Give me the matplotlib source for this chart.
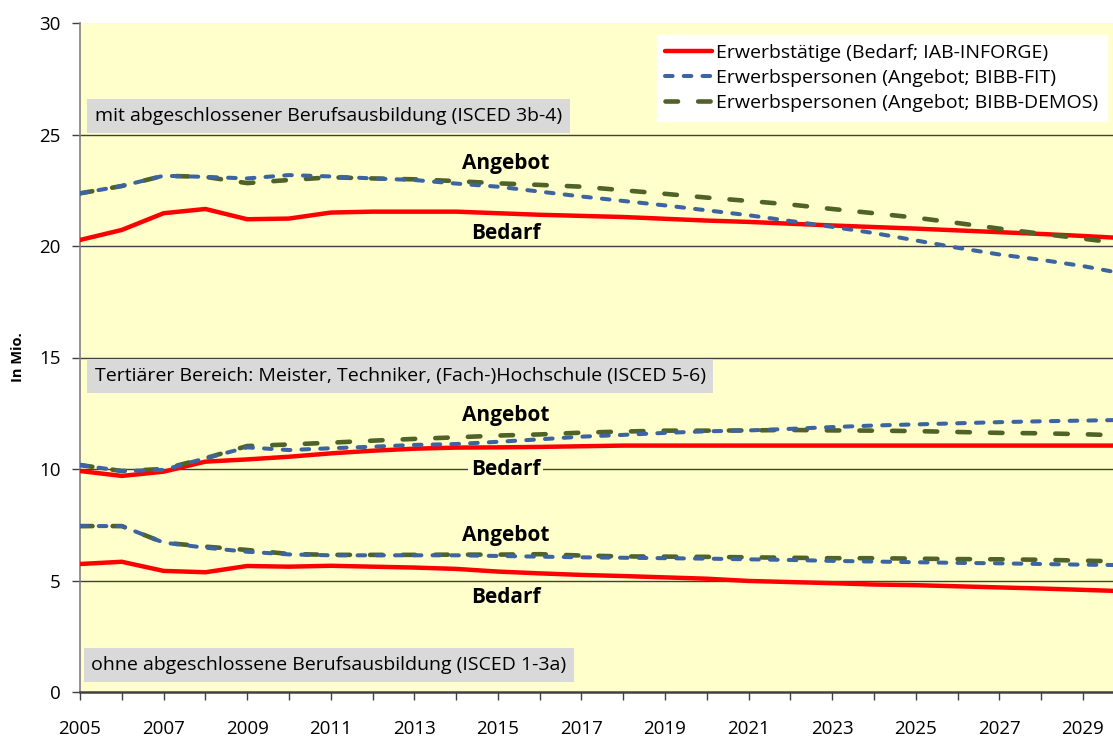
import matplotlib
matplotlib.use("Agg")
import matplotlib.pyplot as plt
import numpy as np

plt.rcParams['font.family'] = ['Open Sans', 'DejaVu Sans']
plt.rcParams['lines.scale_dashes'] = False

years = list(range(2005, 2031))

# mit abgeschlossener Berufsausbildung (ISCED 3b-4)
mid_bedarf = [20.27, 20.72, 21.47, 21.66, 21.2, 21.23, 21.5, 21.54, 21.54, 21.54, 21.47, 21.4, 21.35,
              21.3, 21.22, 21.14, 21.08, 21.0, 20.92, 20.85, 20.78, 20.7, 20.62, 20.54, 20.45, 20.35]
mid_fit = [22.36, 22.69, 23.15, 23.1, 23.03, 23.18, 23.12, 23.03, 22.96, 22.8, 22.66, 22.44, 22.22,
           22.02, 21.82, 21.6, 21.38, 21.12, 20.86, 20.58, 20.25, 19.92, 19.62, 19.38, 19.1, 18.75]
mid_demos = [22.36, 22.69, 23.15, 23.1, 22.82, 22.96, 23.08, 23.03, 22.99, 22.91, 22.81, 22.74, 22.66,
             22.5, 22.34, 22.17, 22.02, 21.86, 21.66, 21.47, 21.27, 21.03, 20.78, 20.55, 20.33, 20.1]

# Tertiärer Bereich (ISCED 5-6)
ter_bedarf = [9.91, 9.69, 9.88, 10.33, 10.43, 10.55, 10.7, 10.82, 10.91, 10.96, 10.97, 10.99, 11.02,
              11.05, 11.05, 11.05, 11.05, 11.05, 11.05, 11.05, 11.05, 11.05, 11.05, 11.05, 11.05, 11.05]
ter_fit = [10.18, 9.91, 9.96, 10.48, 10.97, 10.85, 10.93, 11.0, 11.08, 11.12, 11.22, 11.33, 11.45,
           11.53, 11.62, 11.69, 11.73, 11.8, 11.88, 11.95, 12.0, 12.05, 12.1, 12.14, 12.17, 12.2]
ter_demos = [10.18, 9.91, 10.0, 10.48, 11.03, 11.1, 11.18, 11.27, 11.35, 11.42, 11.5, 11.55, 11.63,
             11.68, 11.72, 11.72, 11.73, 11.75, 11.73, 11.72, 11.7, 11.66, 11.62, 11.6, 11.56, 11.5]

# ohne abgeschlossene Berufsausbildung (ISCED 1-3a)
low_bedarf = [5.74, 5.84, 5.43, 5.37, 5.65, 5.62, 5.66, 5.62, 5.58, 5.52, 5.4, 5.32, 5.25,
              5.2, 5.14, 5.08, 4.98, 4.93, 4.88, 4.82, 4.79, 4.74, 4.69, 4.64, 4.58, 4.52]
low_fit = [7.44, 7.44, 6.7, 6.47, 6.29, 6.17, 6.13, 6.13, 6.13, 6.13, 6.1, 6.07, 6.04,
           6.02, 6.0, 5.98, 5.95, 5.92, 5.88, 5.85, 5.82, 5.79, 5.77, 5.74, 5.71, 5.69]
low_demos = [7.44, 7.44, 6.7, 6.52, 6.37, 6.19, 6.15, 6.15, 6.15, 6.16, 6.16, 6.18, 6.12,
             6.08, 6.07, 6.06, 6.04, 6.02, 6.0, 6.0, 5.98, 5.96, 5.95, 5.93, 5.89, 5.85]

legend_labels = ["Erwerbstätige (Bedarf; IAB-INFORGE)",
                 "Erwerbspersonen (Angebot; BIBB-FIT)",
                 "Erwerbspersonen (Angebot; BIBB-DEMOS)"]
group_labels = ["mit abgeschlossener Berufsausbildung (ISCED 3b-4)",
                "Tertiärer Bereich: Meister, Techniker, (Fach-)Hochschule (ISCED 5-6)",
                "ohne abgeschlossene Berufsausbildung (ISCED 1-3a)"]

RED = "#FF0000"
BLUE = "#3C64A0"
GREEN = "#4F6228"
BG = "#FFFFCC"

fig = plt.figure(figsize=(11.13, 7.40), dpi=100)
ax = fig.add_axes([80/1113, 48/740, 1033/1113, 669/740])
ax.set_facecolor(BG)

for yv in [5, 10, 15, 20, 25]:
    ax.axhline(yv, color="#404040", lw=1.0, zorder=1)

groups = [(mid_bedarf, mid_fit, mid_demos), (ter_bedarf, ter_fit, ter_demos),
          (low_bedarf, low_fit, low_demos)]
handles = None
for i, (bed, fit, dem) in enumerate(groups):
    l1, = ax.plot(years, bed, color=RED, lw=3.2, solid_capstyle='round', zorder=3)
    l3, = ax.plot(years, dem, color=GREEN, lw=3.3, dashes=(9.0, 14.5),
                  dash_capstyle='round', zorder=4)
    l2, = ax.plot(years, fit, color=BLUE, lw=2.9, dashes=(5.5, 8.0),
                  dash_capstyle='round', zorder=5)
    if i == 0:
        handles = [l1, l2, l3]

ax.set_xlim(2005, 2029.72)
ax.set_ylim(0, 30)
ax.set_yticks([0, 5, 10, 15, 20, 25, 30])
ax.set_xticks(years[:-1], minor=True)
ax.set_xticks(list(range(2005, 2030, 2)))
ax.tick_params(axis='x', which='both', length=6, direction='out', color='#404040', width=1)
ax.tick_params(axis='x', which='major', labelsize=13.5, pad=14)
ax.tick_params(axis='y', length=6, direction='out', color='#404040', width=1, labelsize=13.5, pad=8)
for s in ['top', 'right']:
    ax.spines[s].set_visible(False)
ax.spines['left'].set_color('#808080')
ax.spines['left'].set_linewidth(1.2)
ax.spines['bottom'].set_color('#404040')
ax.spines['bottom'].set_linewidth(1.8)
ax.set_ylabel("In Mio.", fontsize=10.5, fontweight='bold', labelpad=10)

# group boxes
box = dict(boxstyle='square,pad=0.4', facecolor='#D9D9D9', edgecolor='none')
fs_box = 14
ax.text(2005.35, 25.83, group_labels[0], fontsize=fs_box, va='center', ha='left', bbox=box, zorder=6)
ax.text(2005.35, 14.17, group_labels[1], fontsize=fs_box, va='center', ha='left', bbox=box, zorder=6)
ax.text(2005.27, 1.21, group_labels[2], fontsize=fs_box, va='center', ha='left', bbox=box, zorder=6)

# Angebot / Bedarf labels
lab_kw = dict(fontsize=15, fontweight='bold', ha='center', va='center', zorder=6)
ax.text(2015.2, 23.72, "Angebot", **lab_kw)
ax.text(2015.18, 20.54, "Bedarf", **lab_kw)
ax.text(2015.2, 12.42, "Angebot", **lab_kw)
ax.text(2015.18, 9.96, "Bedarf", bbox=dict(boxstyle='square,pad=0.15', facecolor=BG, edgecolor='none'), **lab_kw)
ax.text(2015.2, 7.0, "Angebot", **lab_kw)
ax.text(2015.18, 4.22, "Bedarf", **lab_kw)

leg = ax.legend(handles, legend_labels, loc='upper right', bbox_to_anchor=(0.994, 0.982), borderaxespad=0,
                frameon=True, fancybox=False, framealpha=1, facecolor='white', edgecolor='white',
                fontsize=14, handlelength=2.4, handletextpad=0.2, labelspacing=0.36,
                borderpad=0.45)

fig.savefig("out.png", dpi=100, facecolor='white')
